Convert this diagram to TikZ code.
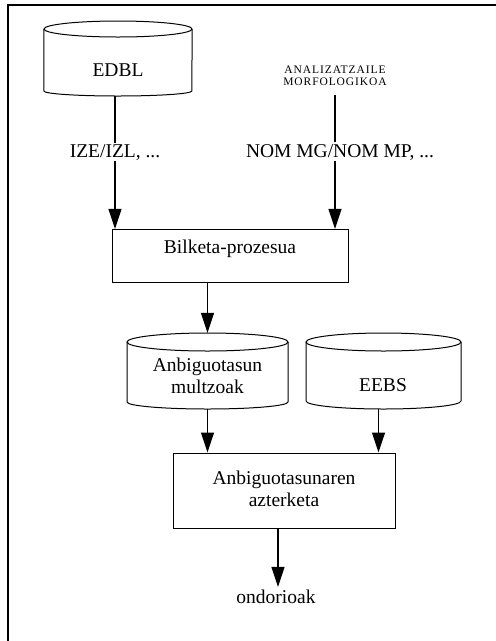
\documentclass[tikz,border=0pt]{standalone}
\usepackage{fontspec}
\setmainfont{Liberation Serif}
\usetikzlibrary{arrows.meta}
\begin{document}
\begin{tikzpicture}[x=1pt,y=-1pt,
  every node/.style={font=\fontsize{19.5}{22}\selectfont, inner sep=0pt},
  body/.style={draw=none, minimum width=#1},
  procbox/.style={draw, line width=1pt, align=center},
  outline/.style={line width=1pt},
  flow/.style={line width=1.2pt, -{Triangle[length=20pt,width=13pt]}},
  plain/.style={line width=1.2pt},
  smallcaps/.style={font=\fontsize{11.5}{11.5}\selectfont\addfontfeatures{LetterSpace=8}, align=center}]
\useasboundingbox (0,0) rectangle (496,641);

% page frame (top and left edges)
\draw[line width=1.5pt] (496,5) -- (8,5) -- (8,641);

% --- EDBL data store ---
\node[body=148pt, minimum height=75pt] (edbl) at (118,58.5) {};
\draw[outline] (edbl.west |- 0,29) -- (edbl.west |- 0,91)
  arc[start angle=180, end angle=0, x radius=74, y radius=5]
  -- (edbl.east |- 0,29);
\draw[outline] (118,29) ellipse[x radius=74, y radius=8];
\node (edbllabel) at (118,70) {EDBL};

% --- analyser label ---
\node[smallcaps] (analiz) at (335,76) {ANALIZATZAILE\\MORFOLOGIKOA};

% --- tag labels ---
\node (ize) at (115,153) {IZE/IZL, ...};
\node (nom) at (340,153) {NOM MG/NOM MP, ...};

% --- collection process ---
\node[procbox, minimum width=236pt, minimum height=53pt] (bilketa) at (230,255.5) {};
\node (bilketalabel) at (230,249) {Bilketa-prozesua};

% --- ambiguity sets data store ---
\node[body=161pt, minimum height=76pt] (anbig) at (207.5,371) {};
\draw[outline] (127,342) -- (127,402)
  arc[start angle=180, end angle=0, x radius=80.5, y radius=7]
  -- (288,342);
\draw[outline] (207.5,342) ellipse[x radius=80.5, y radius=9];
\node[align=center] (anbiglabel) at (207.5,376) {Anbiguotasun\\multzoak};

% --- EEBS data store ---
\node[body=155pt, minimum height=76pt] (eebs) at (383.5,371) {};
\draw[outline] (306,342) -- (306,401)
  arc[start angle=180, end angle=0, x radius=77.5, y radius=8]
  -- (461,342);
\draw[outline] (383.5,342) ellipse[x radius=77.5, y radius=9];
\node (eebslabel) at (383,385) {EEBS};

% --- analysis box ---
\node[procbox, minimum width=222pt, minimum height=75pt] (azterketa) at (284,490.5) {};
\node[align=center] (azterketalabel) at (284,489) {Anbiguotasunaren\\azterketa};

% --- result ---
\node (ondorioak) at (276,597) {ondorioak};

% --- connectors ---
\draw[plain] (edbl.south -| ize) -- ([yshift=2pt]ize.north);
\draw[flow] (ize.south) -- ([yshift=-0.3pt]ize.south |- bilketa.north);
\draw[plain] ([yshift=-9pt]analiz.south) -- ([yshift=3pt]analiz.south |- nom.north);
\draw[flow] (nom.south -| analiz) -- ([yshift=-0.3pt]analiz |- bilketa.north);
\draw[flow] (bilketa.south -| anbig.north) -- (anbig.north);
\draw[flow] (anbig.south) -- (anbig.south |- azterketa.north);
\draw[flow] ([xshift=-5pt]eebs.south) -- ([xshift=-5pt]eebs.south |- azterketa.north);
\draw[flow] ([xshift=-6pt]azterketa.south) -- ([xshift=-6pt,yshift=3pt]azterketa.south |- ondorioak.north);
\end{tikzpicture}
\end{document}
